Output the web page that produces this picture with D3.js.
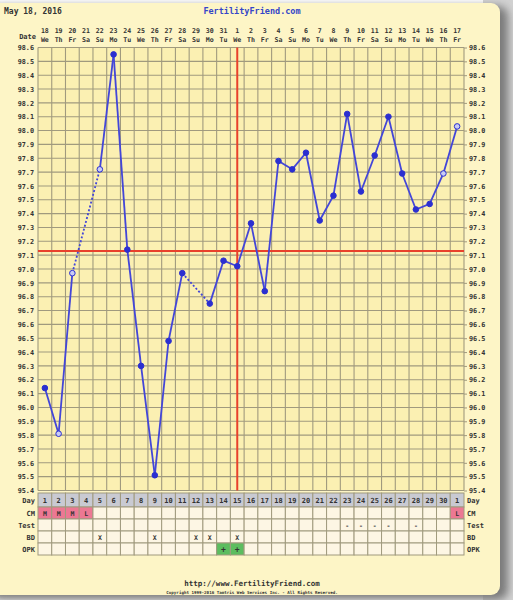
<!DOCTYPE html>
<html>
<head>
<meta charset="utf-8">
<script src="https://cdn.jsdelivr.net/npm/d3@7"></script>
<style>
  body { margin: 0; background: #ffffff; }
  svg { display: block; }
  text { font-family: "DejaVu Sans Mono", monospace; font-weight: bold; fill: #333; }
</style>
</head>
<body>
<div id="chart"></div>
<script>
// chart values
const dates = [18,19,20,21,22,23,24,25,26,27,28,29,30,31,1,2,3,4,5,6,7,8,9,10,11,12,13,14,15,16,17]
const weekdays = ["We","Th","Fr","Sa","Su","Mo","Tu","We","Th","Fr","Sa","Su","Mo","Tu","We","Th","Fr","Sa","Su","Mo","Tu","We","Th","Fr","Sa","Su","Mo","Tu","We","Th","Fr"]
const cycleDays = [1,2,3,4,5,6,7,8,9,10,11,12,13,14,15,16,17,18,19,20,21,22,23,24,25,26,27,28,29,30,1]
const temps = [96.14,95.81,96.97,null,97.72,98.55,97.14,96.30,95.51,96.48,96.97,null,96.75,97.06,97.02,97.33,96.84,97.78,97.72,97.84,97.35,97.53,98.12,97.56,97.82,98.10,97.69,97.43,97.47,97.69,98.03]
const openPoints = [2,3,5,30,31]          // column numbers with hollow markers
const cmMarks = { 1: "M", 2: "M", 3: "M", 4: "L", 31: "L" }
const testMarks = [23,24,25,26,28]
const bdMarks = [5,9,12,13,15]
const opkMarks = [14,15]
const coverline = 97.13
const ovulationCol = 15
const tempTicks = d3.range(954, 987).map(d => d / 10)
const rowNames = ["CM","Test","BD","OPK"]

const W = 513, H = 600
const GRID = { LEFT: 38, RIGHT: 464, TOP: 47.5, BOTTOM: 490.5 }

const svg = d3.select("#chart").append("svg").attr("width", W).attr("height", H)

// shadow + panel
const defs = svg.append("defs")
const f = defs.append("filter").attr("id", "sh").attr("x", "-10%").attr("y", "-10%").attr("width", "130%").attr("height", "130%")
f.append("feGaussianBlur").attr("stdDeviation", 4)
svg.append("rect").attr("x", W - 30).attr("y", 0).attr("width", 30).attr("height", H).attr("fill", "#d2d2d2")
svg.append("rect").attr("x", -10).attr("y", 6).attr("width", 518).attr("height", 594).attr("rx", 10)
  .attr("fill", "#7a7a7a").attr("filter", "url(#sh)")
svg.append("rect").attr("x", -10).attr("y", 3).attr("width", 510).attr("height", 592).attr("rx", 9)
  .attr("fill", "#fdf5c6")

const cols = d3.range(1, 32)
const x = d3.scaleBand().domain(cols).range([GRID.LEFT, GRID.RIGHT])
const y = d3.scaleLinear().domain([95.4, 98.6]).range([GRID.BOTTOM, GRID.TOP])
const cx = c => x(c) + x.bandwidth() / 2

// header
svg.append("text").attr("x", 4).attr("y", 14).attr("font-size", 8).text("May 18, 2016")
svg.append("text").attr("x", 252).attr("y", 14).attr("font-size", 8.5).attr("text-anchor", "middle")
  .style("fill", "#3446c8").text("FertilityFriend.com")
svg.append("text").attr("x", 36).attr("y", 39).attr("font-size", 7).attr("text-anchor", "end").text("Date")
svg.append("g").selectAll("text.d").data(cols).join("text")
  .attr("x", c => cx(c)).attr("y", 33).attr("font-size", 6.6).attr("text-anchor", "middle")
  .text(c => dates[c - 1])
svg.append("g").selectAll("text.w").data(cols).join("text")
  .attr("x", c => cx(c)).attr("y", 42).attr("font-size", 6.6).attr("text-anchor", "middle")
  .text(c => weekdays[c - 1])

// temperature grid
svg.append("rect").attr("x", GRID.LEFT).attr("y", GRID.TOP)
  .attr("width", GRID.RIGHT - GRID.LEFT).attr("height", GRID.BOTTOM - GRID.TOP).attr("fill", "#fbf0b2")
const grid = svg.append("g").attr("stroke", "#a09a7e").attr("stroke-width", 1.1)
grid.selectAll("line.h").data(tempTicks).join("line")
  .attr("x1", GRID.LEFT).attr("x2", GRID.RIGHT).attr("y1", d => y(d)).attr("y2", d => y(d))
grid.selectAll("line.v").data(d3.range(0, 32)).join("line")
  .attr("x1", i => GRID.LEFT + i * x.step()).attr("x2", i => GRID.LEFT + i * x.step())
  .attr("y1", GRID.TOP).attr("y2", GRID.BOTTOM)

// temperature axes
const fmt = d3.format(".1f")
const axL = svg.append("g").attr("transform", `translate(${GRID.LEFT},0)`)
  .call(d3.axisLeft(y).tickValues(tempTicks).tickFormat(fmt).tickSize(0).tickPadding(4))
const axR = svg.append("g").attr("transform", `translate(${GRID.RIGHT},0)`)
  .call(d3.axisRight(y).tickValues(tempTicks).tickFormat(fmt).tickSize(3).tickPadding(2))
;[axL, axR].forEach(a => {
  a.select(".domain").remove()
  a.selectAll("line").attr("stroke", "#a09a7e")
  a.selectAll("text").attr("font-size", 6.8).attr("font-family", "DejaVu Sans Mono").style("fill", "#333")
})

// coverline and ovulation line
svg.append("line").attr("x1", GRID.LEFT).attr("x2", GRID.RIGHT)
  .attr("y1", y(coverline)).attr("y2", y(coverline)).attr("stroke", "#e8412c").attr("stroke-width", 2)
svg.append("line").attr("x1", cx(ovulationCol)).attr("x2", cx(ovulationCol))
  .attr("y1", GRID.TOP).attr("y2", GRID.BOTTOM).attr("stroke", "#e8412c").attr("stroke-width", 2)

// temperature line
const pts = cols.filter(c => temps[c - 1] !== null).map(c => ({ c, t: temps[c - 1] }))
const segs = d3.pairs(pts)
svg.append("g").selectAll("line").data(segs).join("line")
  .attr("x1", d => cx(d[0].c)).attr("y1", d => y(d[0].t))
  .attr("x2", d => cx(d[1].c)).attr("y2", d => y(d[1].t))
  .attr("stroke", "#4346d8").attr("stroke-width", 1.8)
  .attr("stroke-dasharray", d => d[1].c - d[0].c > 1 ? "2,2" : null)
svg.append("g").selectAll("circle").data(pts).join("circle")
  .attr("cx", d => cx(d.c)).attr("cy", d => y(d.t)).attr("r", 2.8)
  .attr("fill", d => openPoints.includes(d.c) ? "#c9ccf4" : "#2b2fd0")
  .attr("stroke", "#2b2fd0").attr("stroke-width", 1)

// bottom rows
const ROWS = { DAY_TOP: 493, DAY_H: 14, H: 12 }
const rowTop = i => ROWS.DAY_TOP + ROWS.DAY_H + i * ROWS.H
const cells = svg.append("g")
cells.selectAll("rect.day").data(cols).join("rect")
  .attr("x", c => x(c)).attr("y", ROWS.DAY_TOP).attr("width", x.step()).attr("height", ROWS.DAY_H)
  .attr("fill", "#c9cad2").attr("stroke", "#a09a7e")
rowNames.forEach((name, i) => {
  cells.selectAll(`rect.r${i}`).data(cols).join("rect")
    .attr("x", c => x(c)).attr("y", rowTop(i)).attr("width", x.step()).attr("height", ROWS.H)
    .attr("stroke", "#a09a7e")
    .attr("fill", c => {
      if (name === "CM" && cmMarks[c]) return "#ec7893"
      if (name === "OPK" && opkMarks.includes(c)) return "#5cbd5f"
      return "#fdf6e4"
    })
})
svg.append("g").selectAll("text").data(cols).join("text")
  .attr("x", c => cx(c)).attr("y", ROWS.DAY_TOP + 10).attr("font-size", 7).attr("text-anchor", "middle")
  .text(c => cycleDays[c - 1])
const marks = svg.append("g")
Object.keys(cmMarks).forEach(c => marks.append("text").attr("x", cx(+c)).attr("y", rowTop(0) + 8.5)
  .attr("text-anchor", "middle").attr("font-size", 6.5).text(cmMarks[c]))
testMarks.forEach(c => marks.append("text").attr("x", cx(c)).attr("y", rowTop(1) + 8.5)
  .attr("text-anchor", "middle").attr("font-size", 6.5).text("-"))
bdMarks.forEach(c => marks.append("text").attr("x", cx(c)).attr("y", rowTop(2) + 8.5)
  .attr("text-anchor", "middle").attr("font-size", 6.5).text("X"))
opkMarks.forEach(c => marks.append("text").attr("x", cx(c)).attr("y", rowTop(3) + 9)
  .attr("text-anchor", "middle").attr("font-size", 8).text("+"))

// row labels, both sides
const labels = ["Day"].concat(rowNames)
const labelY = [ROWS.DAY_TOP + 10].concat(rowNames.map((n, i) => rowTop(i) + 9))
labels.forEach((l, i) => {
  svg.append("text").attr("x", GRID.LEFT - 3).attr("y", labelY[i]).attr("font-size", 7)
    .attr("text-anchor", "end").text(l)
  svg.append("text").attr("x", GRID.RIGHT + 3).attr("y", labelY[i]).attr("font-size", 7).text(l)
})

// footer
svg.append("text").attr("x", 252).attr("y", 586).attr("font-size", 7.5).attr("text-anchor", "middle")
  .text("http://www.FertilityFriend.com")
svg.append("text").attr("x", 252).attr("y", 594).attr("font-size", 4.2).attr("text-anchor", "middle")
  .text("Copyright 1999-2016 Tamtris Web Services Inc. - All Rights Reserved.")
</script>
</body>
</html>
